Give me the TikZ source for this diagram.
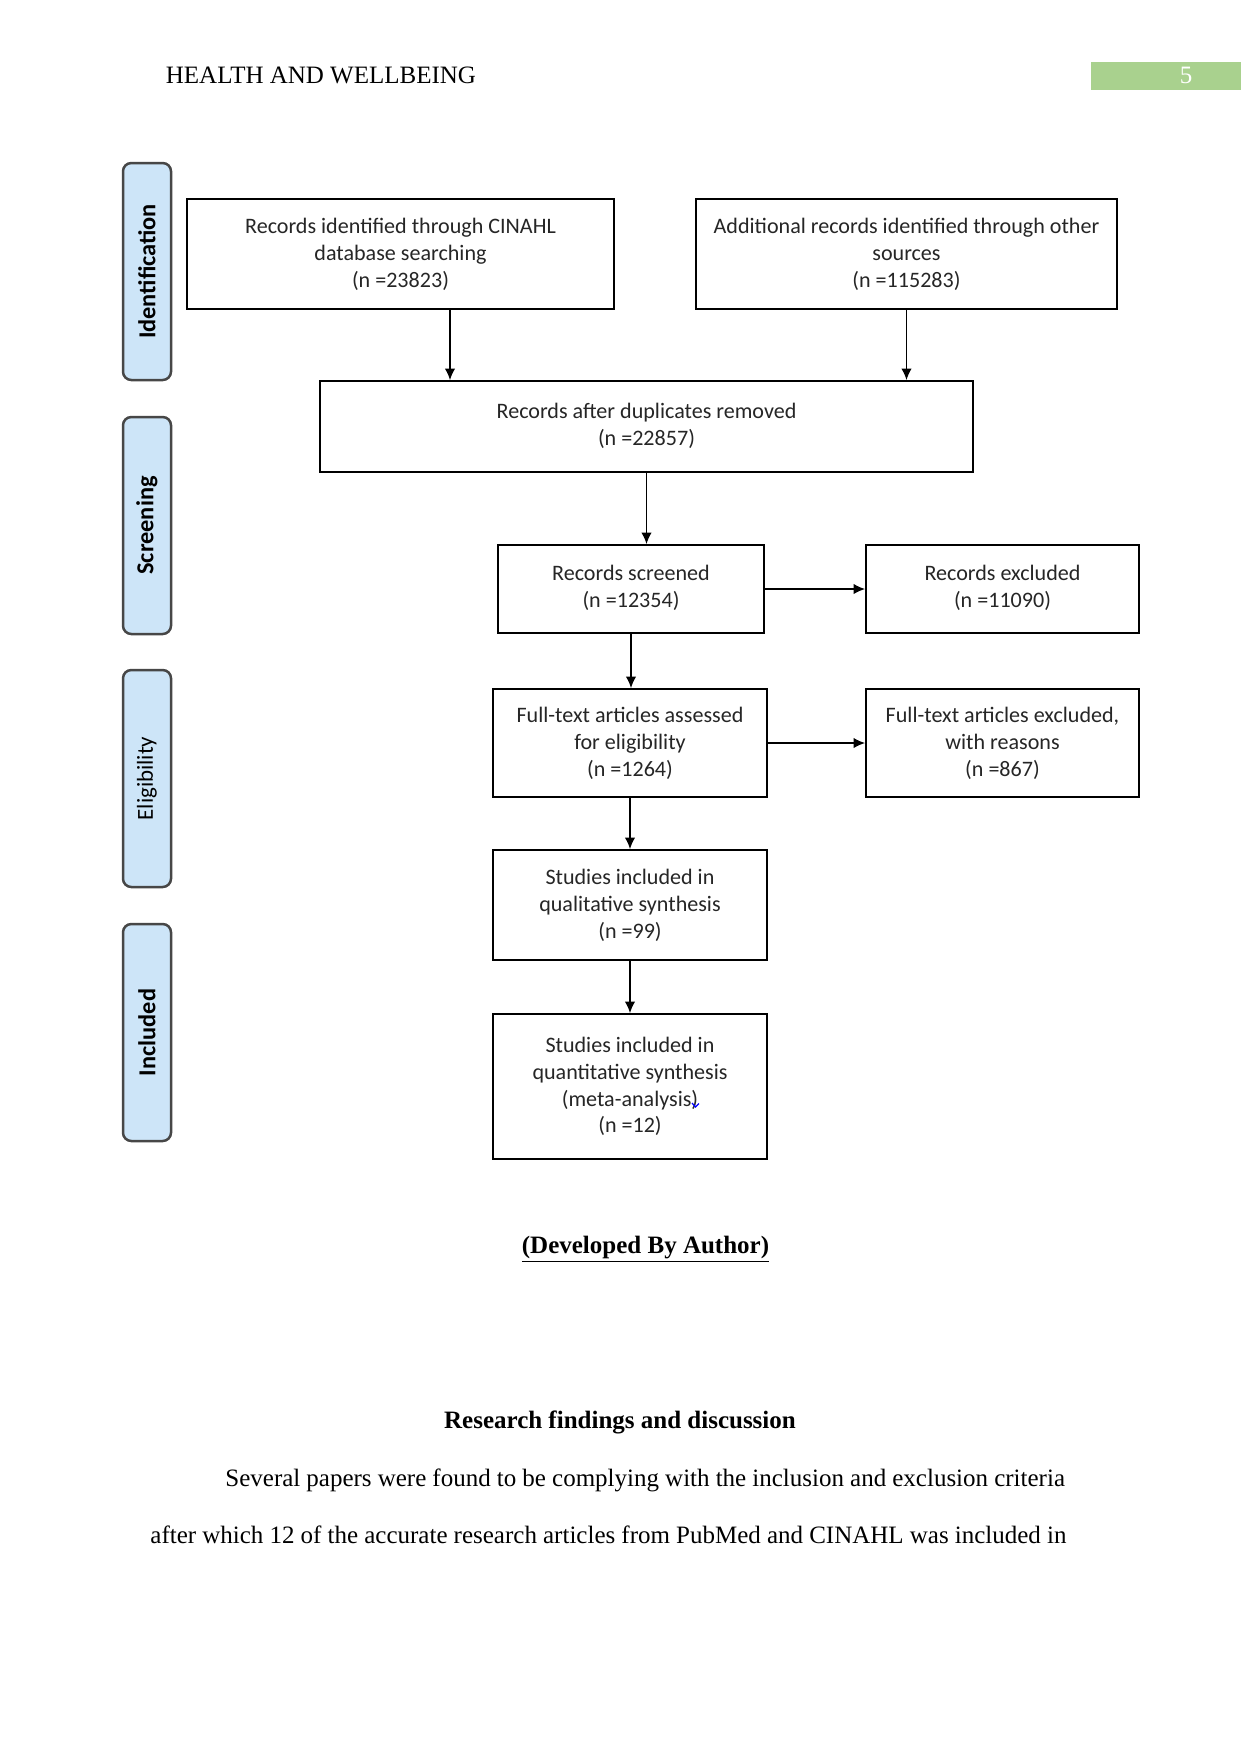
\documentclass[tikz,border=0pt]{standalone}
\usepackage{fontspec}
\setmainfont{Liberation Serif}
\newfontfamily\calfont{Carlito}
\usetikzlibrary{arrows.meta}
\definecolor{hdrgreen}{HTML}{A9D18E}
\definecolor{sidefill}{HTML}{CDE5F8}
\definecolor{sideedge}{HTML}{474747}
\definecolor{boxtext}{HTML}{262626}
\begin{document}
\begin{tikzpicture}[x=0.48pt,y=-0.48pt,
  box/.style={draw=black, line width=0.9pt, fill=white, align=center, inner sep=0pt,
    text=boxtext, font=\calfont\fontsize{10.6}{12.9}\selectfont},
  side/.style={draw=sideedge, fill=sidefill, line width=1.2pt, rounded corners=4pt,
    rotate=90, inner sep=0pt, minimum width=217*0.48pt, minimum height=48*0.48pt,
    text=black, font=\calfont\fontsize{11.7}{13}\selectfont\bfseries},
  arr/.style={-{Latex[length=5.5pt,width=5pt]}, line width=0.7pt},
  body/.style={inner sep=0pt, anchor=base west, font=\fontsize{12}{14}\selectfont}]
\useasboundingbox (0,0) rectangle (1241,1754);
\fill[white] (0,0) rectangle (1241,1754);

% header
\node[body] (hdr) at (165.5,83) {HEALTH AND WELLBEING};
\node[fill=hdrgreen, minimum width=150*0.48pt, minimum height=28*0.48pt, inner sep=0pt] (pg) at (1166,75.5) {};
\node[inner sep=0pt, anchor=base, text=white, font=\fontsize{12}{14}\selectfont] (pgn) at (1186,83) {5};

% side labels
\node[side] (s1) at (147,271.5) {Identification};
\node[side] (s2) at (147,525.5) {Screening};
\node[side, font=\calfont\fontsize{11}{13}\selectfont] (s3) at (147,778.5) {Eligibility};
\node[side] (s4) at (147,1032.5) {Included};

% boxes
\node[box, minimum width=427*0.48pt, minimum height=110*0.48pt] (b1) at (400.5,254)
  {Records identified through CINAHL\\database searching\\(n =23823)};
\node[box, minimum width=421*0.48pt, minimum height=110*0.48pt] (b2) at (906.5,254)
  {Additional records identified through other\\sources\\(n =115283)};
\node[box, minimum width=653*0.48pt, minimum height=91*0.48pt] (b3) at (646.5,426.5)
  {\raisebox{2pt}{\begin{tabular}{@{}c@{}}Records after duplicates removed\\(n =22857)\end{tabular}}};
\node[box, minimum width=266*0.48pt, minimum height=88*0.48pt] (b4) at (631,589)
  {\raisebox{2pt}{\begin{tabular}{@{}c@{}}Records screened\\(n =12354)\end{tabular}}};
\node[box, minimum width=273*0.48pt, minimum height=88*0.48pt] (b5) at (1002.5,589)
  {\raisebox{2pt}{\begin{tabular}{@{}c@{}}Records excluded\\(n =11090)\end{tabular}}};
\node[box, minimum width=274*0.48pt, minimum height=108*0.48pt] (b6) at (630,743)
  {Full-text articles assessed\\for eligibility\\(n =1264)};
\node[box, minimum width=273*0.48pt, minimum height=108*0.48pt] (b7) at (1002.5,743)
  {Full-text articles excluded,\\with reasons\\(n =867)};
\node[box, minimum width=274*0.48pt, minimum height=110*0.48pt] (b8) at (630,905)
  {Studies included in\\qualitative synthesis\\(n =99)};
\node[box, minimum width=274*0.48pt, minimum height=145*0.48pt] (b9) at (630,1086.5)
  {Studies included in\\quantitative synthesis\\(meta-analysis)\\(n =12)};
\draw[blue, line width=0.6pt] (692,1103) -- (695.5,1107) -- (699,1103.5);

% connectors
\coordinate (a1) at ([xshift=49.5*0.48pt]b1.south);
\draw[arr] (a1) -- (a1 |- b3.north);
\draw[arr] (b2.south) -- (b2.south |- b3.north);
\draw[arr] (b3.south) -- (b3.south |- b4.north);
\draw[arr] (b4.south) -- (b4.south |- b6.north);
\draw[arr] (b4.east) -- (b4.east -| b5.west);
\draw[arr] (b6.east) -- (b6.east -| b7.west);
\draw[arr] (b6.south) -- (b8.north);
\draw[arr] (b8.south) -- (b9.north);

% text below
\node[body, anchor=base] (dev) at (645.5,1253) {\textbf{\underline{(Developed By Author)}}};
\node[body, anchor=base] (rf) at (620,1428) {\textbf{Research findings and discussion}};
\node[body] (l1) at (225,1486) {\makebox[403pt][s]{Several papers were found to be complying with the inclusion and exclusion criteria}};
\node[body] (l2) at (150,1543) {\makebox[439.7pt][s]{after which 12 of the accurate research articles from PubMed and CINAHL was included in}};
\end{tikzpicture}
\end{document}
